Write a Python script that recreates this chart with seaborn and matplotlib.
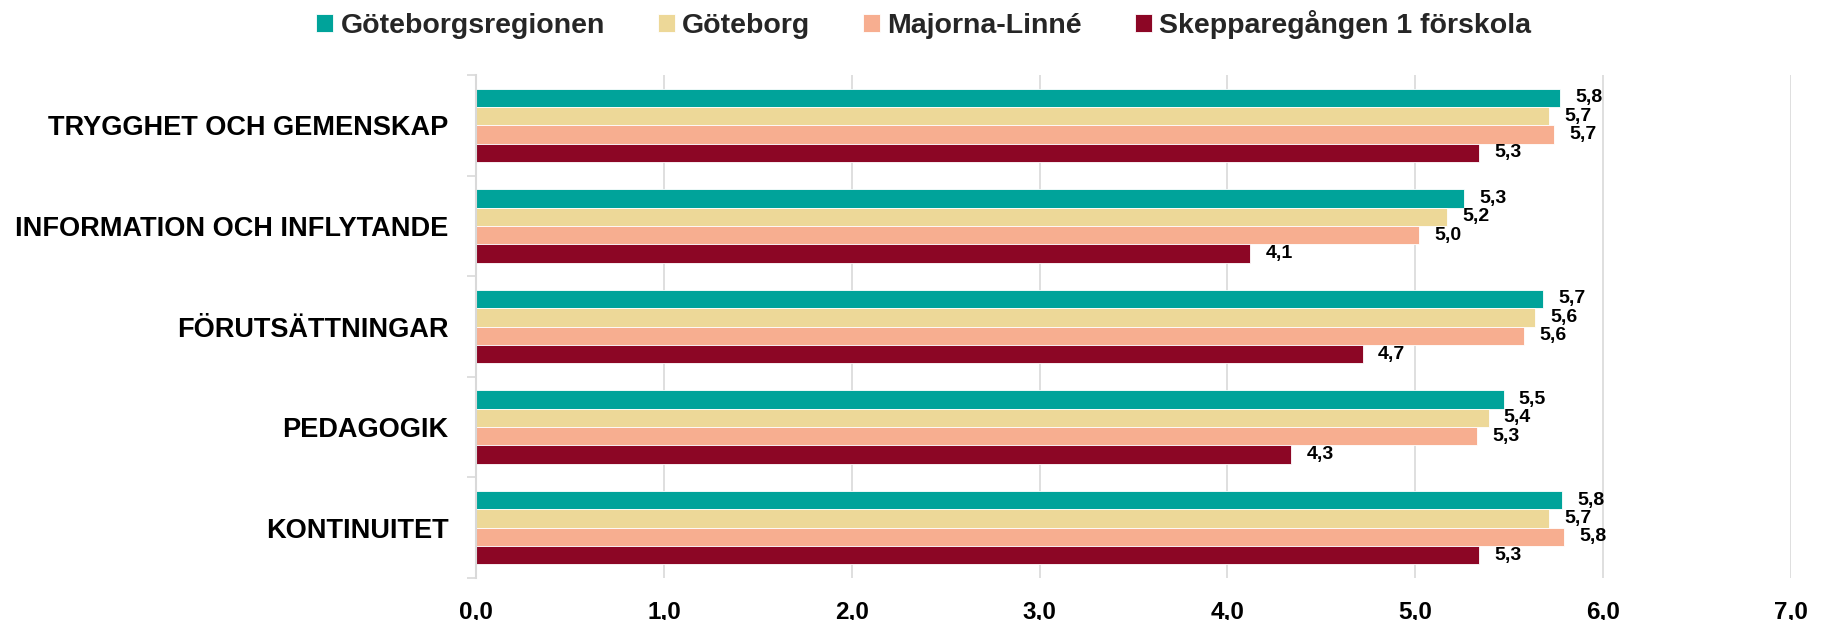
import pandas as pd
import numpy as np
import matplotlib
matplotlib.use("Agg")
import matplotlib.pyplot as plt
import seaborn as sns

# Kategorier (uppifrån och ned) och serier
categories = ["TRYGGHET OCH GEMENSKAP", "INFORMATION OCH INFLYTANDE",
              "FÖRUTSÄTTNINGAR", "PEDAGOGIK", "KONTINUITET"]
series_names = ["Göteborgsregionen", "Göteborg", "Majorna-Linné",
                "Skepparegången 1 förskola"]
goteborgsregionen = [5.77, 5.26, 5.68, 5.47, 5.78]
goteborg = [5.71, 5.17, 5.64, 5.39, 5.71]
majorna_linne = [5.74, 5.02, 5.58, 5.33, 5.79]
skepparegangen = [5.34, 4.12, 4.72, 4.34, 5.34]
x_ticks = [0, 1, 2, 3, 4, 5, 6, 7]

colors = ["#00A39A", "#EDD898", "#F7AE90", "#8C0625"]
grid_grey = "#D9D9D9"

# Långt format för seaborn
values = [goteborgsregionen, goteborg, majorna_linne, skepparegangen]
rows = []
for name, vals in zip(series_names, values):
    for cat, v in zip(categories, vals):
        rows.append({"Kategori": cat, "Område": name, "Värde": v})
df = pd.DataFrame(rows)

sns.set_theme(style="white")
plt.rcParams["font.family"] = ["Liberation Sans", "DejaVu Sans"]

fig = plt.figure(figsize=(18.29, 6.20), dpi=100)
ax = fig.add_axes([0.2603, 0.0677, 0.9792 - 0.2603, 0.879 - 0.0677])

sns.barplot(data=df, y="Kategori", x="Värde", hue="Område",
            order=categories, hue_order=series_names, palette=colors,
            orient="h", width=0.73, errorbar=None, ax=ax,
            edgecolor="white", linewidth=0.6, saturation=1)

# Dataetiketter med decimalkomma
for cont in ax.containers:
    ax.bar_label(cont, fmt=lambda v: f"{v:.1f}".replace(".", ","),
                 padding=11, fontsize=14, fontweight="bold", color="black")

ax.set_xlim(0, 7)
ax.set_xticks(x_ticks)
ax.set_xticklabels([f"{t:.1f}".replace(".", ",") for t in x_ticks],
                   fontsize=17.5, fontweight="bold", color="black")
ax.set_ylim(4.5, -0.5)
ax.set_yticks(range(len(categories)))
ax.set_yticklabels(categories, fontsize=19.5, fontweight="bold", color="black")
ax.set_yticks(np.arange(-0.5, len(categories), 1.0), minor=True)
ax.tick_params(axis="y", which="major", length=0, pad=20)
ax.tick_params(axis="y", which="minor", length=6.5, width=1.2, color=grid_grey, left=True)
ax.tick_params(axis="x", length=0, pad=16)
ax.set_xlabel("")
ax.set_ylabel("")

ax.grid(axis="x", color=grid_grey, linewidth=1.2)
ax.grid(axis="y", visible=False)
ax.set_axisbelow(True)
for side in ["top", "right", "bottom"]:
    ax.spines[side].set_visible(False)
ax.spines["left"].set_color(grid_grey)
ax.spines["left"].set_linewidth(1.5)

handles, labels = ax.get_legend_handles_labels()
ax.get_legend().remove()
fig.legend(handles, labels, loc="center", bbox_to_anchor=(0.505, 0.96), ncol=4,
           frameon=False, prop={"size": 20.5, "weight": "bold"},
           handlelength=0.6, handleheight=0.6, handletextpad=0.26,
           columnspacing=1.85)

fig.savefig("out.png", dpi=100)
